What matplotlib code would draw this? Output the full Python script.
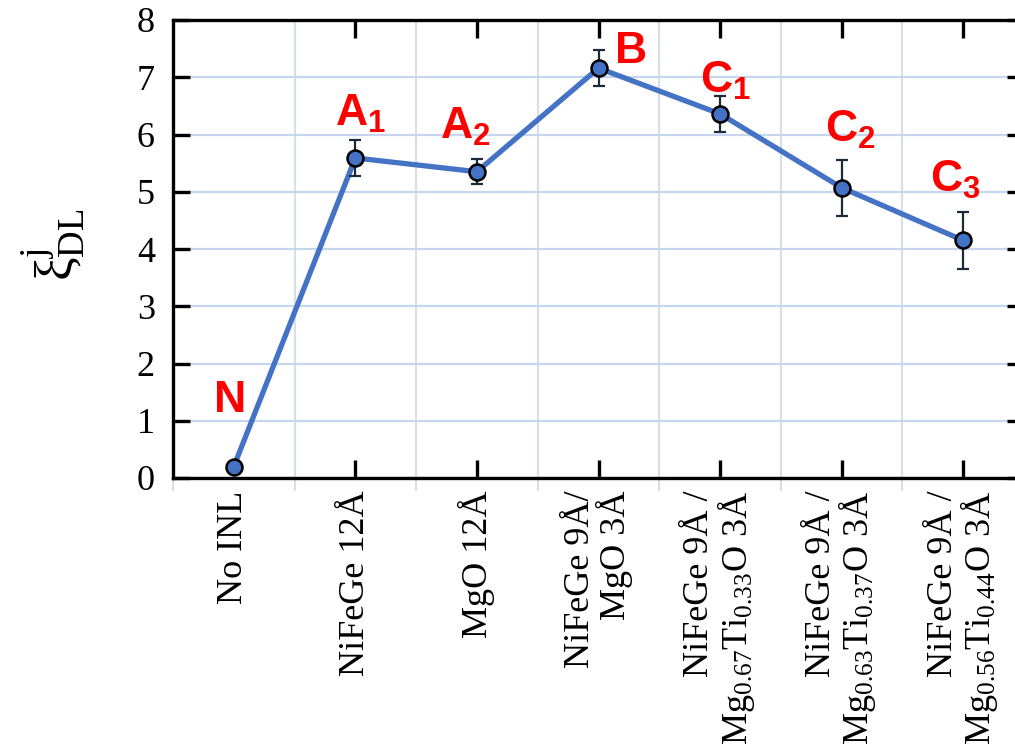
import numpy as np
import matplotlib
matplotlib.use("Agg")
import matplotlib.pyplot as plt

# Data: damping-like torque efficiency per insertion layer
samples = [
    "No INL",
    "NiFeGe 12Å",
    "MgO 12Å",
    "NiFeGe 9Å/\nMgO 3Å",
    "NiFeGe 9Å /\n$\\mathregular{Mg_{0.67}Ti_{0.33}O}$ 3Å",
    "NiFeGe 9Å /\n$\\mathregular{Mg_{0.63}Ti_{0.37}O}$ 3Å",
    "NiFeGe 9Å /\n$\\mathregular{Mg_{0.56}Ti_{0.44}O}$ 3Å",
]
xi_dl = [0.20, 5.59, 5.35, 7.16, 6.36, 5.07, 4.15]
xi_err = [0.0, 0.32, 0.22, 0.32, 0.31, 0.49, 0.50]
point_tags = ["N", "A_1", "A_2", "B", "C_1", "C_2", "C_3"]

# Tag offsets from each point, in points (dx, dy)
tag_offsets = [(-4, 39), (4, 23), (-8, 24), (23, 4), (4, 15), (6, 33), (-6, 35)]

LINE_BLUE = "#4472c4"
ERR_COLOR = "#1c2b3a"
HGRID = "#c6d6ee"
VGRID = "#d9dee8"
SERIF = "Liberation Serif"

fig = plt.figure(figsize=(10.15, 7.54), dpi=100)
ax = fig.add_axes([173 / 1015, 1 - 478 / 754, 851 / 1015, 458 / 754])

x = np.arange(len(samples))

ax.errorbar(x, xi_dl, yerr=xi_err, fmt="none", ecolor=ERR_COLOR,
            elinewidth=1.6, capsize=4, capthick=1.6, zorder=3)
ax.plot(x, xi_dl, color=LINE_BLUE, lw=3.8, zorder=2)
ax.plot(x, xi_dl, "o", ms=11.5, mfc=LINE_BLUE, mec="black", mew=1.8, zorder=4)

for xi, yi, tag, (dx, dy) in zip(x, xi_dl, point_tags, tag_offsets):
    ax.annotate(f"$\\mathregular{{{tag}}}$", (xi, yi), xytext=(dx, dy),
                textcoords="offset points", ha="center", va="baseline",
                color="red", fontsize=32, fontweight="bold",
                family="Liberation Sans", zorder=5)

ax.set_xlim(-0.5, len(samples) - 0.5)
ax.set_ylim(0, 8)

# Category ticks (inward) and light boundary ticks / grid
ax.set_xticks(x)
ax.set_xticklabels(samples, rotation=90, ha="center", va="top",
                   family=SERIF, fontsize=26, linespacing=0.95,
                   multialignment="right")
ax.set_xticks(np.arange(-0.5, len(samples), 1), minor=True)
ax.tick_params(axis="x", which="major", direction="in", length=13, width=2.4,
               top=True, bottom=True, pad=9, color="black")
ax.tick_params(axis="x", which="minor", direction="out", length=9, width=1.5,
               color=VGRID, top=False)
first = ax.xaxis.get_major_ticks()[0]
first.tick1line.set_visible(False)
first.tick2line.set_visible(False)
ax.grid(True, axis="x", which="minor", color=VGRID, lw=1.6, zorder=0)

ax.set_yticks(np.arange(0, 9, 1))
ax.tick_params(axis="y", direction="in", length=12, width=2.4, left=True,
               right=True, pad=13, labelsize=26)
for lab in ax.get_yticklabels():
    lab.set_family(SERIF)
ax.grid(True, axis="y", which="major", color=HGRID, lw=1.6, zorder=0)
ax.set_axisbelow(True)

for sp in ax.spines.values():
    sp.set_linewidth(2.4)
    sp.set_color("black")

ax.set_ylabel("$\\mathregular{\\xi^{j}_{DL}}$", family=SERIF, fontsize=38)
ax.yaxis.set_label_coords(-0.100, 0.51)

fig.savefig("out.png", dpi=100, facecolor="white")
